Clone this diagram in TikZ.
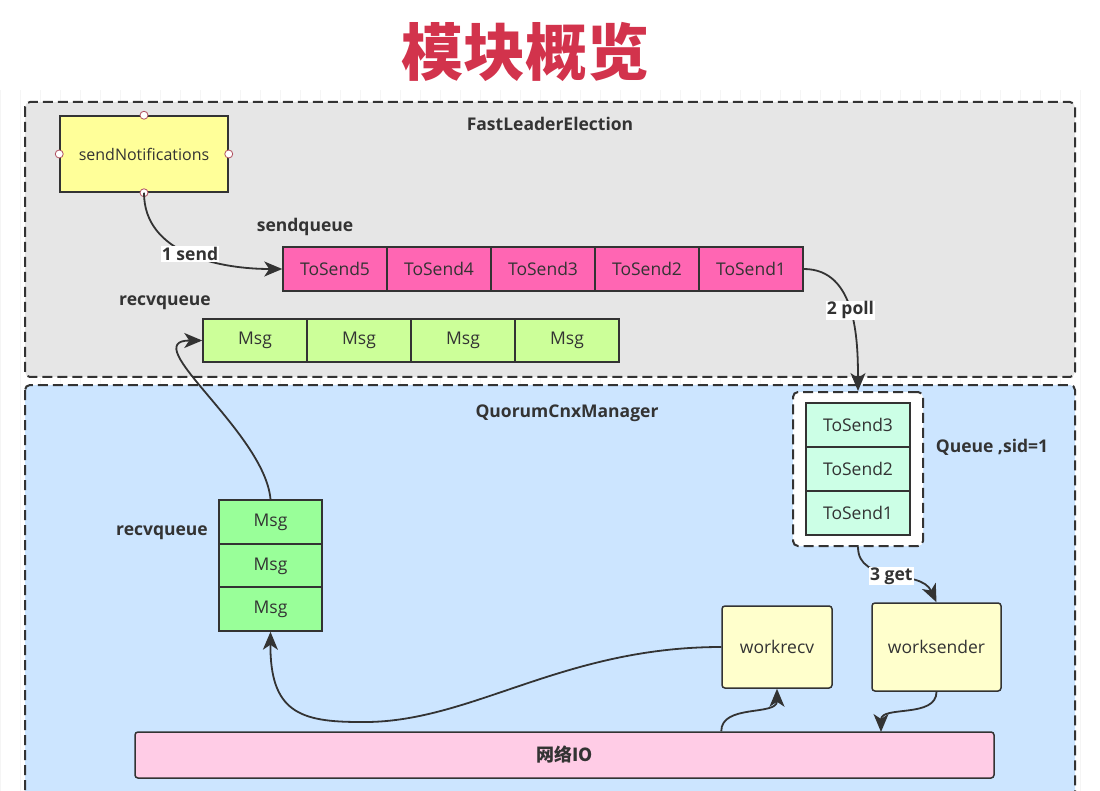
\documentclass[tikz,border=0pt]{standalone}
\usepackage{fontspec}
\setmainfont{Open Sans}
\newfontfamily\cjk{Noto Sans CJK SC}
\usepackage{tikz}
\usetikzlibrary{arrows.meta}

\definecolor{inkdark}{HTML}{333333}
\definecolor{titlered}{HTML}{D2334C}
\definecolor{flegray}{HTML}{E6E6E6}
\definecolor{qcmblue}{HTML}{CCE5FF}
\definecolor{sendpink}{HTML}{FF66B3}
\definecolor{recvlime}{HTML}{CCFF99}
\definecolor{recvgreen}{HTML}{99FF99}
\definecolor{queuemint}{HTML}{CCFFE6}
\definecolor{notiyellow}{HTML}{FFFF99}
\definecolor{workyellow}{HTML}{FFFFCC}
\definecolor{iopink}{HTML}{FFCCE6}
\definecolor{portred}{HTML}{B05060}

\begin{document}
\begin{tikzpicture}[x=1pt, y=-1pt,
  every node/.style={font=\fontsize{17.5}{20}\selectfont, text=inkdark},
  frame/.style={draw=inkdark, line width=2pt, dash pattern=on 10pt off 5pt, rounded corners=5pt},
  cell/.style={draw=inkdark, line width=1.5pt, minimum width=104pt, minimum height=44pt, inner sep=0pt},
  worker/.style={draw=inkdark, line width=1.5pt, fill=workyellow, rounded corners=3pt, inner sep=0pt},
  title/.style={font=\bfseries\fontsize{17.5}{20}\selectfont},
  lbl/.style={fill=white, inner sep=1pt, font=\bfseries\fontsize{17.5}{20}\selectfont},
  flow/.style={draw=inkdark, line width=1.8pt, -{Stealth[length=18pt, width=15pt, inset=5pt]}},
  port/.style={draw=portred, fill=white, line width=0.8pt}]
\useasboundingbox (0,0) rectangle (1100,791);

% grid behind everything
\draw[gray!8, line width=0.5pt] (0,90) grid[step=20] (1100,791);

\node[font=\cjk\bfseries\fontsize{62}{62}\selectfont, text=titlered] (head) at (525,52) {模块概览};

% the two modules
\draw[frame, fill=flegray] (25,102) rectangle (1075,377);
\draw[frame, fill=qcmblue] (25,385) rectangle (1075,800);
\node[title] (fle) at (550,124) {FastLeaderElection};
\node[title] (qcm) at (567,413) {QuorumCnxManager};

% FastLeaderElection
\node[draw=inkdark, line width=1.5pt, fill=notiyellow, minimum width=168pt, minimum height=76pt,
  font=\fontsize{16}{18}\selectfont] (sn) at (144,154) {sendNotifications};
\draw[port] (sn.north) circle (4pt);
\draw[port] (sn.south) circle (4pt);
\draw[port] (sn.west) circle (4pt);
\draw[port] (sn.east) circle (4pt);

\node[title] (sqlabel) at (305,227) {sendqueue};
\node[cell, fill=sendpink] (ts5) at (335,269) {ToSend5};
\node[cell, fill=sendpink] (ts4) at (439,269) {ToSend4};
\node[cell, fill=sendpink] (ts3) at (543,269) {ToSend3};
\node[cell, fill=sendpink] (ts2) at (647,269) {ToSend2};
\node[cell, fill=sendpink] (ts1) at (751,269) {ToSend1};

\node[title] (rqlabel) at (165,303) {recvqueue};
\node[cell, fill=recvlime, minimum height=43pt] (rm1) at (255,340.5) {Msg};
\node[cell, fill=recvlime, minimum height=43pt] (rm2) at (359,340.5) {Msg};
\node[cell, fill=recvlime, minimum height=43pt] (rm3) at (463,340.5) {Msg};
\node[cell, fill=recvlime, minimum height=43pt] (rm4) at (567,340.5) {Msg};

% QuorumCnxManager
\node[frame, fill=white, minimum width=130pt, minimum height=154pt] (qbox) at (858,469) {};
\node[cell, fill=queuemint] (qs3) at (858,425) {ToSend3};
\node[cell, fill=queuemint] (qs2) at (858,469) {ToSend2};
\node[cell, fill=queuemint] (qs1) at (858,513) {ToSend1};
\node[title] (qlabel) at (992,447) {Queue ,sid=1};

\node[title] (rq2label) at (162,533) {recvqueue};
\node[cell, fill=recvgreen, minimum width=103pt] (qm1) at (270.5,522) {Msg};
\node[cell, fill=recvgreen, minimum width=103pt] (qm2) at (270.5,566) {Msg};
\node[cell, fill=recvgreen, minimum width=103pt] (qm3) at (270.5,609) {Msg};

\node[worker, minimum width=110pt, minimum height=82pt] (wr) at (777,647) {workrecv};
\node[worker, minimum width=129pt, minimum height=88pt] (ws) at (936.5,647) {worksender};
\node[draw=inkdark, line width=1.5pt, fill=iopink, rounded corners=3pt, minimum width=859pt, minimum height=46pt,
  font=\cjk\bfseries\fontsize{18}{20}\selectfont] (io) at (564.5,755) {网络IO};
\coordinate (iosend) at (881,732);
\coordinate (dip) at (360,722);

% connectors
\draw[flow] (sn.south) to[out=-90, in=180] node[lbl, pos=0.5] {1 send} (ts5.west);
\draw[flow] (ts1.east) to[out=0, in=90] node[lbl, pos=0.5] {2 poll} (qbox.north);
\draw[flow] (qbox.south) to[out=-90, in=115] node[lbl, pos=0.5] {3 get} (ws.north);
\draw[flow] (qm1.north) to[out=95, in=180] (rm1.west);
\draw[flow] (wr.west) .. controls (560,647) and (470,724) .. (dip) .. controls (300,722) and (270,712) .. (qm3.south);
\draw[flow] (wr.west |- io.north) to[out=90, in=-90] (wr.south);
\draw[flow] (ws.south) to[out=-90, in=90] (iosend);
\end{tikzpicture}
\end{document}
